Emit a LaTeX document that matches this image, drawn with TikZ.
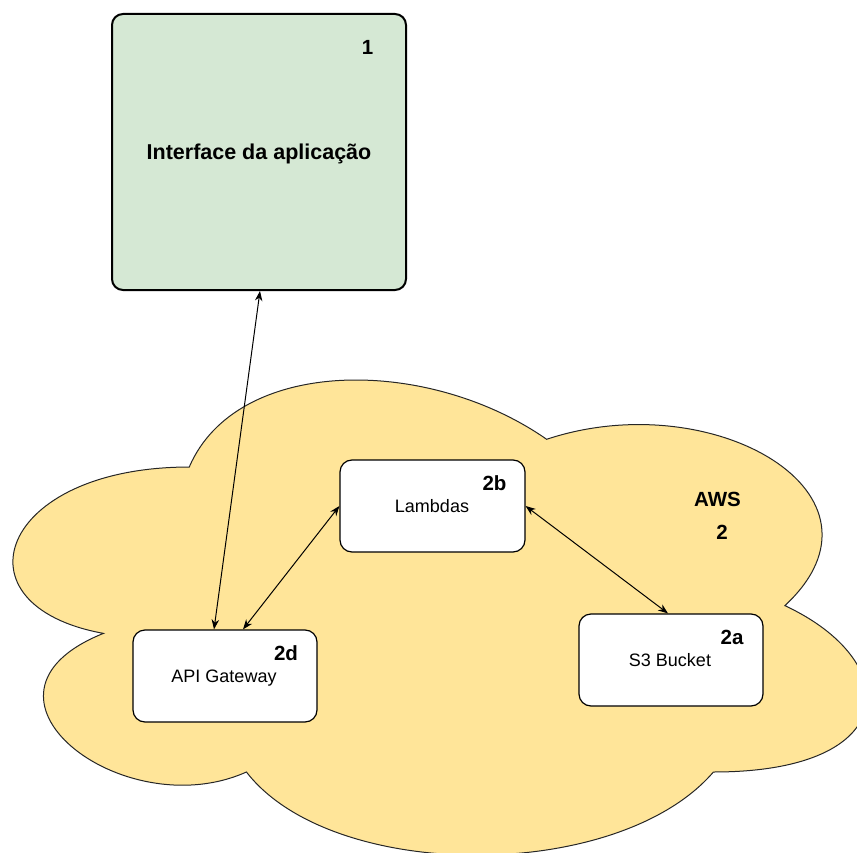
\documentclass[tikz,border=0pt]{standalone}
\usepackage{fontspec}
\setmainfont{Liberation Sans}
\usetikzlibrary{arrows.meta}
\definecolor{cloudfill}{HTML}{FFE599}
\definecolor{greenfill}{HTML}{D5E8D4}
\tikzset{
  box/.style={draw=black, line width=1.2pt, rounded corners=12pt, fill=white, inner sep=0pt, minimum width=184pt, minimum height=92pt},
  appbox/.style={draw=black, line width=2pt, rounded corners=11pt, fill=greenfill, inner sep=0pt, minimum width=294pt, minimum height=276pt},
  reg/.style={font=\fontsize{18}{22}\selectfont, anchor=base, inner sep=0pt},
  bld/.style={font=\fontsize{20.5}{24}\selectfont\bfseries, anchor=base, inner sep=0pt},
  link/.style={line width=1pt, {Stealth[length=10pt,width=7.5pt]}-{Stealth[length=10pt,width=7.5pt]}}
}
\begin{document}
\begin{tikzpicture}[x=1pt,y=-1pt]
\useasboundingbox (0,0) rectangle (857,853);
% cloud (draw.io cloud shape), clipped to the page
\begin{scope}
\clip (0,0) rectangle (857,853);
\def\cx{-49}\def\cy{328.4}\def\cw{953}\def\ch{554.5}
\draw[fill=cloudfill, draw=black!85, line width=1pt]
  ({\cx+0.25*\cw},{\cy+0.25*\ch})
  .. controls ({\cx+0.05*\cw},{\cy+0.25*\ch}) and ({\cx+0*\cw},{\cy+0.5*\ch}) .. ({\cx+0.16*\cw},{\cy+0.55*\ch})
  .. controls ({\cx+0*\cw},{\cy+0.66*\ch}) and ({\cx+0.18*\cw},{\cy+0.9*\ch}) .. ({\cx+0.31*\cw},{\cy+0.8*\ch})
  .. controls ({\cx+0.4*\cw},{\cy+1*\ch}) and ({\cx+0.7*\cw},{\cy+1*\ch}) .. ({\cx+0.8*\cw},{\cy+0.8*\ch})
  .. controls ({\cx+1*\cw},{\cy+0.8*\ch}) and ({\cx+1*\cw},{\cy+0.6*\ch}) .. ({\cx+0.875*\cw},{\cy+0.5*\ch})
  .. controls ({\cx+1*\cw},{\cy+0.3*\ch}) and ({\cx+0.8*\cw},{\cy+0.1*\ch}) .. ({\cx+0.625*\cw},{\cy+0.2*\ch})
  .. controls ({\cx+0.5*\cw},{\cy+0.05*\ch}) and ({\cx+0.3*\cw},{\cy+0.05*\ch}) .. ({\cx+0.25*\cw},{\cy+0.25*\ch})
  -- cycle;
\end{scope}
% boxes
\node[appbox] (app) at (259,152) {};
\node[box, minimum width=185pt] (lambda) at (432.5,506) {};
\node[box] (api) at (225,676) {};
\node[box] (s3) at (671,660) {};
% connectors
\draw[link] ([xshift=1pt]app.south) -- ([xshift=-11pt]api.north);
\draw[link] ([xshift=18pt]api.north) -- (lambda.west);
\draw[link] (lambda.east) -- ([xshift=-3pt]s3.north);
% texts
\node[bld] (t1) at (367.5,55) {1};
\node[bld, font=\fontsize{21.5}{25}\selectfont\bfseries] (tapp) at (259,160) {Interface da aplicação};
\node[bld] (t2b) at (494.5,490.5) {2b};
\node[reg] (tlam) at (432,512.5) {Lambdas};
\node[bld] (t2d) at (286,660) {2d};
\node[reg] (tapi) at (224,682) {API Gateway};
\node[bld] (t2a) at (732,644) {2a};
\node[reg] (ts3) at (670,666) {S3 Bucket};
\node[bld] (taws) at (717.5,506) {AWS};
\node[bld] (t2) at (722,539) {2};
\end{tikzpicture}
\end{document}
